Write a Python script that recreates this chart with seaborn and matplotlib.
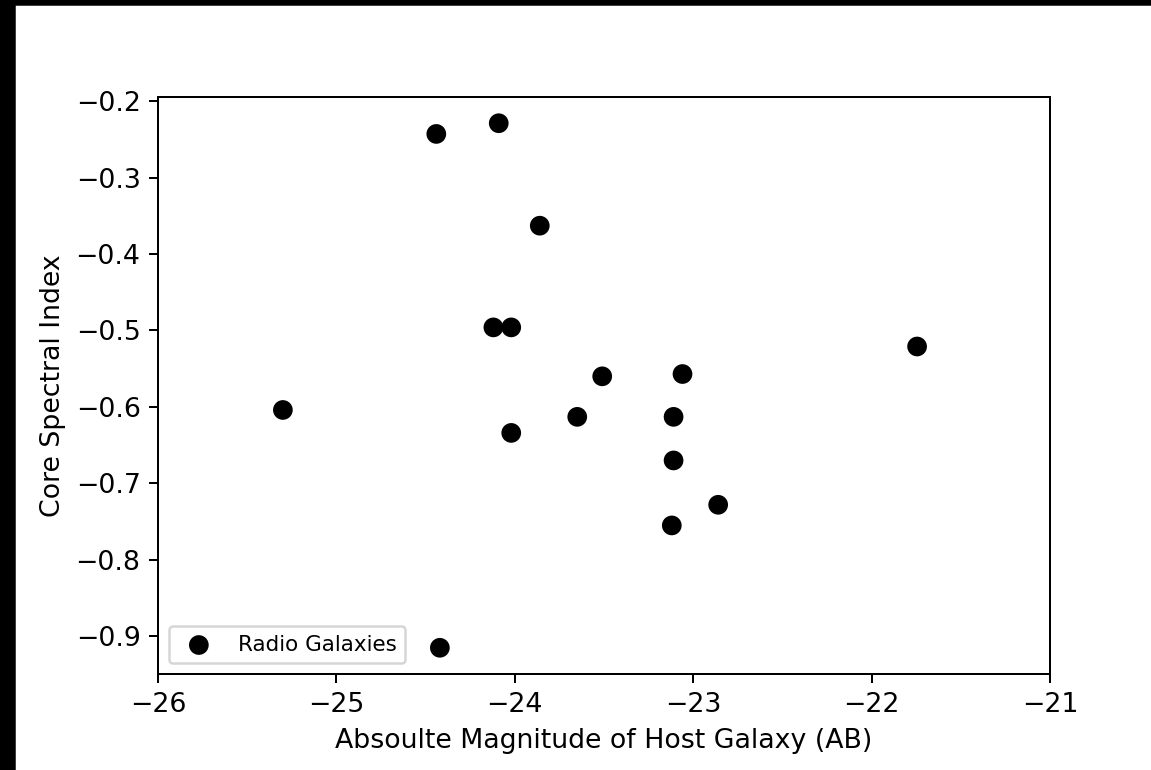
import matplotlib
matplotlib.use("Agg")
import matplotlib.pyplot as plt
import seaborn as sns
import pandas as pd
from matplotlib.patches import Rectangle

abs_mag = [-24.44, -24.09, -23.86, -24.12, -24.02, -21.745, -25.30, -23.51,
           -23.06, -23.65, -23.11, -24.02, -23.11, -22.86, -23.12, -24.42]
spec_index = [-0.243, -0.229, -0.363, -0.496, -0.496, -0.521, -0.604, -0.560,
              -0.557, -0.613, -0.613, -0.634, -0.670, -0.728, -0.755, -0.915]

df = pd.DataFrame({"mag": abs_mag, "alpha": spec_index})

plt.rcParams['font.family'] = ['DejaVu Sans']
fig = plt.figure(figsize=(1151/180, 770/180), dpi=180)
ax = fig.add_axes([158/1151, 1-674/770, (1050-158)/1151, (674-97)/770])

sns.scatterplot(data=df, x="mag", y="alpha", ax=ax, color="black", s=62,
                edgecolor="none", label="Radio Galaxies")
ax.set_xlim(-26, -21)
ax.set_xlabel("Absoulte Magnitude of Host Galaxy (AB)", fontsize=10.7)
ax.set_ylabel("Core Spectral Index", fontsize=10.7)
ax.tick_params(labelsize=10.7)
ax.legend(loc="lower left", fontsize=8.6)

# black bands at top and left edge
fig.patches.append(Rectangle((0, 0), 14/1151, 1, transform=fig.transFigure,
                             color="black", zorder=10))
fig.patches.append(Rectangle((0, 1-4/770), 1, 4/770, transform=fig.transFigure,
                             color="black", zorder=10))

fig.savefig("out.png", dpi=180)
